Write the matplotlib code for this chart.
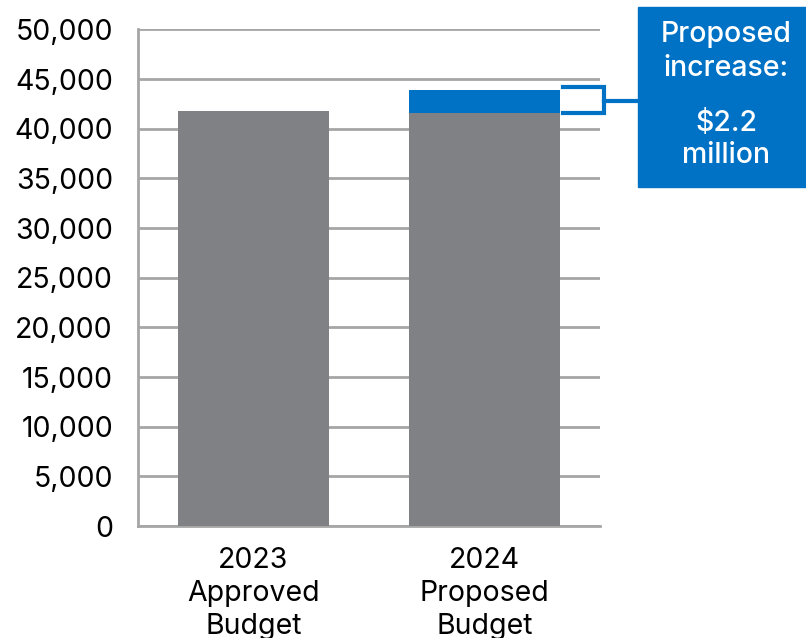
import matplotlib.pyplot as plt
from matplotlib.patches import Rectangle
from matplotlib.lines import Line2D
from matplotlib.ticker import FuncFormatter

categories = ["2023\nApproved\nBudget", "2024\nProposed\nBudget"]
base = [41750, 41600]
increase = [0, 2300]
callout = ["Proposed", "increase:", "", "$2.2", "million"]

gray = "#808184"
blue = "#0072C6"
grid = "#a6a6a6"

plt.rcParams['font.family'] = ['Inter', 'DejaVu Sans']

fig = plt.figure(figsize=(8.06, 6.38), dpi=100)
ax = fig.add_axes([0.1712, 0.1755, 0.5732, 0.7785])

x = range(len(categories))
ax.bar(x, base, width=0.65, color=gray, zorder=3)
ax.bar(x, increase, bottom=base, width=0.65, color=blue, zorder=3)

ax.set_xlim(-0.5, 1.5)
ax.set_ylim(0, 50000)
ax.set_yticks(range(0, 50001, 5000))
ax.yaxis.set_major_formatter(FuncFormatter(lambda v, p: f"{int(v):,}"))
ax.set_xticks(list(x))
ax.set_xticklabels(categories, fontsize=20.5, linespacing=1.28)
ax.tick_params(axis='y', labelsize=20.5, length=0, pad=18)
ax.tick_params(axis='x', length=0, pad=15)
ax.grid(axis='y', color=grid, linewidth=2, zorder=0)
for s in ['top', 'right']:
    ax.spines[s].set_visible(False)
ax.spines['left'].set_color(grid)
ax.spines['left'].set_linewidth(2)
ax.spines['bottom'].set_color(grid)
ax.spines['bottom'].set_linewidth(2)

# bracket around the increase segment
y_lo = base[1]
y_hi = base[1] + increase[1]
bx0, bx1, bx2 = 1.338, 1.517, 1.70
ym = (y_lo + y_hi) / 2
for xs, ys in [([bx0, bx1, bx1, bx0], [y_hi + 250, y_hi + 250, y_lo, y_lo]),
               ([bx1, bx2], [ym, ym])]:
    ax.add_line(Line2D(xs, ys, color=blue, linewidth=3, clip_on=False,
                       solid_joinstyle='miter', zorder=4))

# callout box
fig.patches.append(Rectangle((0.7916, 0.7069), 0.2084, 0.2821,
                             transform=fig.transFigure, color=blue, zorder=5))
ys_txt = [35, 68, 95, 124, 156]
for t, yp in zip(callout, ys_txt):
    if t:
        fig.text(0.901, 1 - yp / 638, t, color="white", fontsize=20.5,
                 fontweight='medium', ha='center', va='center', zorder=6)

fig.savefig("out.png", dpi=100)
